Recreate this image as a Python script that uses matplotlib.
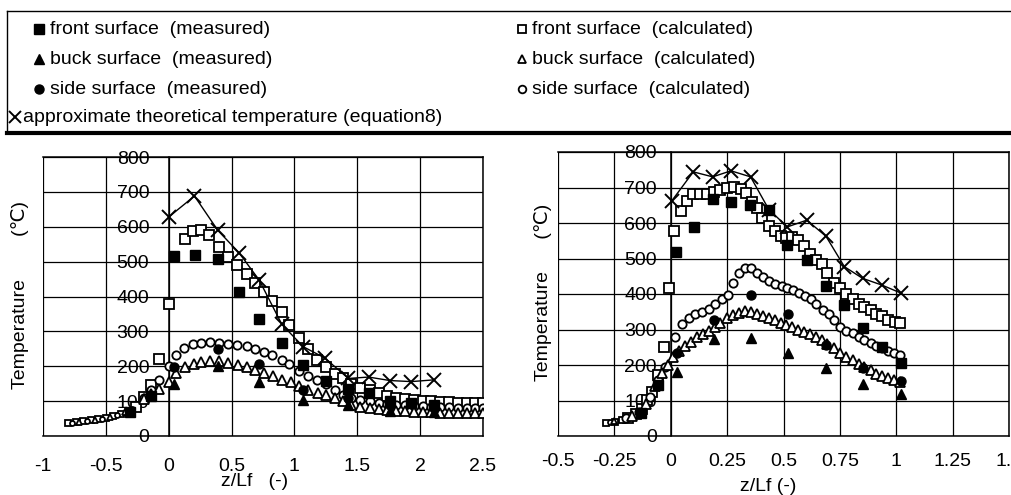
import numpy as np
import matplotlib.pyplot as plt
from matplotlib.lines import Line2D

plt.rcParams['font.family'] = ['Liberation Sans', 'DejaVu Sans']

# ---- left chart : z/Lf from -1 to 2.5 ----
L_meas_front_x = [-0.31, -0.14, 0.04, 0.21, 0.39, 0.56, 0.72, 0.90, 1.07, 1.25, 1.43, 1.59, 1.76, 1.93, 2.11]
L_meas_front_T = [70, 115, 517, 520, 508, 413, 336, 268, 204, 159, 134, 123, 100, 95, 90]
L_meas_x = [0.045, 0.39, 0.72, 1.07, 1.43, 1.76, 2.11]
L_meas_back_T = [149, 201, 156, 103, 89, 73, 70]
L_meas_side_T = [199, 250, 207, 133, 108, 88, 80]
L_theory_x = [0.0, 0.205, 0.39, 0.56, 0.72, 0.90, 1.07, 1.24, 1.43, 1.59, 1.76, 1.93, 2.11]
L_theory_T = [628, 688, 590, 525, 447, 320, 256, 224, 165, 169, 159, 156, 161]

L_calc_front_x = [-0.80, -0.74, -0.68, -0.62, -0.56, -0.50, -0.44, -0.38, -0.32, -0.26, -0.20, -0.14, -0.08, 0.0,
                  0.13, 0.19, 0.26, 0.32, 0.40, 0.47, 0.54, 0.62, 0.69, 0.76, 0.82, 0.90, 0.96, 1.04, 1.11, 1.18,
                  1.25, 1.32, 1.39, 1.45, 1.52, 1.60, 1.67, 1.74, 1.81, 1.88, 1.95, 2.02, 2.09, 2.16, 2.23, 2.30,
                  2.37, 2.44, 2.50]
L_calc_front_T = [38, 40, 42, 45, 48, 52, 57, 63, 70, 82, 112, 147, 220, 379,
                  565, 589, 592, 575, 541, 512, 491, 465, 440, 413, 388, 355, 319, 281, 249, 218,
                  197, 178, 166, 149, 137, 132, 123, 115, 110, 106, 103, 101, 99, 98, 97, 96,
                  96, 95, 95]
L_calc_side_x = [-0.77, -0.65, -0.53, -0.41, -0.29, -0.20, -0.14, -0.08, 0.0, 0.06, 0.125, 0.19, 0.26, 0.33,
                 0.40, 0.47, 0.54, 0.62, 0.69, 0.76, 0.82, 0.90, 0.96, 1.04, 1.11, 1.18, 1.25, 1.32, 1.39,
                 1.45, 1.52, 1.60, 1.67, 1.74, 1.81, 1.88, 1.95, 2.02, 2.09, 2.16, 2.23, 2.30, 2.37, 2.44, 2.50]
L_calc_side_T = [37, 42, 50, 60, 78, 108, 132, 161, 202, 233, 252, 263, 268, 269,
                 268, 264, 261, 257, 249, 242, 233, 218, 207, 185, 172, 161, 149, 132, 118,
                 110, 104, 99, 95, 92, 90, 88, 86, 85, 84, 83, 82, 81, 80, 80, 79]
L_calc_back_x = [-0.71, -0.59, -0.47, -0.35, -0.20, -0.14, -0.08, 0.0, 0.06, 0.13, 0.20, 0.26, 0.33, 0.40,
                 0.47, 0.55, 0.62, 0.69, 0.76, 0.83, 0.90, 0.97, 1.04, 1.11, 1.19, 1.25, 1.32, 1.39, 1.45,
                 1.52, 1.60, 1.67, 1.74, 1.81, 1.88, 1.95, 2.02, 2.09, 2.16, 2.23, 2.30, 2.37, 2.44, 2.50]
L_calc_back_T = [40, 46, 55, 68, 105, 120, 134, 156, 180, 199, 207, 211, 214, 214,
                 209, 204, 199, 190, 180, 172, 161, 156, 142, 132, 123, 118, 108, 99, 89,
                 84, 80, 77, 75, 73, 71, 70, 69, 68, 67, 66, 66, 65, 65, 65]

# ---- right chart : z/Lf from -0.5 to 1.5 ----
R_meas_front_x = [-0.13, -0.055, 0.022, 0.104, 0.186, 0.267, 0.35, 0.435, 0.517, 0.603, 0.688, 0.77, 0.851, 0.937, 1.022]
R_meas_front_T = [64, 144, 517, 588, 667, 658, 650, 638, 539, 497, 422, 368, 303, 252, 206]
R_meas_x = [0.027, 0.19, 0.357, 0.52, 0.688, 0.852, 1.022]
R_meas_back_T = [181, 272, 275, 234, 191, 146, 119]
R_meas_side_T = [233, 326, 396, 343, 256, 191, 155]
R_theory_x = [0.004, 0.10, 0.186, 0.267, 0.354, 0.435, 0.517, 0.603, 0.688, 0.77, 0.851, 0.937, 1.019]
R_theory_T = [662, 744, 730, 747, 730, 638, 589, 608, 563, 477, 444, 425, 403]

R_calc_front_x = [-0.285, -0.248, -0.218, -0.189, -0.156, -0.129, -0.107, -0.085, -0.055, -0.028, -0.007,
                  0.015, 0.045, 0.071, 0.10, 0.131, 0.16, 0.19, 0.22, 0.25, 0.28, 0.31,
                  0.334, 0.361, 0.383, 0.406, 0.435, 0.462, 0.487, 0.513, 0.539, 0.566,
                  0.591, 0.617, 0.643, 0.67, 0.695, 0.725, 0.752, 0.777, 0.807, 0.834,
                  0.859, 0.886, 0.911, 0.938, 0.963, 0.993, 1.015]
R_calc_front_T = [38, 40, 45, 52, 62, 75, 101, 125, 172, 250, 418,
                  577, 633, 662, 681, 683, 683, 686, 692, 700, 702, 697,
                  685, 659, 641, 613, 591, 578, 563, 559, 561, 552,
                  535, 514, 497, 484, 460, 432, 418, 401, 385, 371,
                  364, 355, 345, 338, 328, 322, 319]
R_calc_side_x = [-0.27, -0.20, -0.14, -0.09, -0.058, -0.025,
                 0.019, 0.049, 0.079, 0.108, 0.138, 0.168, 0.198, 0.227, 0.254,
                 0.276, 0.302, 0.328, 0.357, 0.383, 0.409, 0.435, 0.462, 0.492, 0.517,
                 0.542, 0.569, 0.596, 0.621, 0.646, 0.673, 0.70, 0.725, 0.752, 0.777,
                 0.807, 0.834, 0.859, 0.886, 0.911, 0.938, 0.963, 0.99, 1.015]
R_calc_side_T = [40, 50, 68, 110, 158, 193,
                 280, 315, 331, 343, 350, 359, 371, 385, 397,
                 432, 460, 472, 472, 458, 447, 437, 428, 422, 416,
                 411, 403, 394, 385, 371, 356, 343, 326, 308, 296,
                 289, 280, 270, 261, 253, 247, 240, 235, 228]
R_calc_back_x = [-0.25, -0.17, -0.11, -0.07, -0.04, -0.01,
                 0.012, 0.037, 0.064, 0.09, 0.116, 0.141, 0.168, 0.195, 0.22,
                 0.25, 0.276, 0.302, 0.331, 0.358, 0.383, 0.409, 0.435, 0.462, 0.487,
                 0.513, 0.539, 0.566, 0.591, 0.617, 0.643, 0.67, 0.695, 0.725,
                 0.752, 0.777, 0.807, 0.834, 0.859, 0.886, 0.911, 0.938, 0.963, 0.99, 1.015]
R_calc_back_T = [42, 55, 90, 140, 178, 200,
                 223, 240, 253, 265, 278, 287, 296, 306, 317,
                 331, 341, 347, 353, 350, 343, 338, 331, 326, 319,
                 312, 308, 300, 294, 287, 280, 270, 259, 247,
                 235, 223, 214, 203, 195, 186, 176, 169, 162, 158, 153]

L_xticks = [-1, -0.5, 0, 0.5, 1, 1.5, 2, 2.5]
L_xlabels = ['-1', '-0.5', '0', '0.5', '1', '1.5', '2', '2.5']
R_xticks = [-0.5, -0.25, 0, 0.25, 0.5, 0.75, 1, 1.25, 1.5]
R_xlabels = ['-0.5', '-0.25', '0', '0.25', '0.5', '0.75', '1', '1.25', '1.5']
yticks = [0, 100, 200, 300, 400, 500, 600, 700, 800]

meas_style = dict(ls='none', color='black', mec='black')
calc_style = dict(ls='none', mfc='white', mec='black', mew=1.3)
sizes = {'s': 7, '^': 7, 'o': 6.5}
calc_sizes = {'s': 6.5, '^': 6.5, 'o': 6}


def draw_calc(ax, x, y, marker, cut):
    # points far upstream are packed tightly, so they get a smaller marker
    x = np.array(x)
    y = np.array(y)
    small = x < cut
    ax.plot(x[~small], y[~small], marker, ms=calc_sizes[marker], **calc_style, zorder=3)
    ax.plot(x[small], y[small], marker, ms=calc_sizes[marker] * 0.6, **calc_style, zorder=3)


def setup(ax, xticks, xlabels, xpad, ypad):
    ax.set_xlim(xticks[0], xticks[-1])
    ax.set_ylim(0, 800)
    ax.set_xticks(xticks)
    ax.set_xticklabels(xlabels)
    ax.set_yticks(yticks)
    ax.set_yticklabels([str(v) for v in yticks])
    ax.spines['left'].set_position(('data', 0))
    for s in ax.spines.values():
        s.set_linewidth(1.1)
    ax.grid(True, color='black', lw=0.9)
    ax.set_axisbelow(True)
    ax.tick_params(axis='x', length=0, labelsize=14, pad=xpad)
    ax.tick_params(axis='y', length=0, labelsize=14, pad=ypad)


fig = plt.figure(figsize=(10.12, 4.95), dpi=100)
ax1 = fig.add_axes([43 / 1012, 1 - 436 / 495, 440 / 1012, 279 / 495])
ax2 = fig.add_axes([558 / 1012, 1 - 436 / 495, 451 / 1012, 284 / 495])

setup(ax1, L_xticks, L_xlabels, 15.5, 14)
setup(ax2, R_xticks, R_xlabels, 12, 10)

# left chart
draw_calc(ax1, L_calc_front_x, L_calc_front_T, 's', -0.28)
draw_calc(ax1, L_calc_side_x, L_calc_side_T, 'o', -0.28)
draw_calc(ax1, L_calc_back_x, L_calc_back_T, '^', -0.28)
ax1.plot(L_meas_front_x, L_meas_front_T, 's', ms=sizes['s'], **meas_style, zorder=4)
ax1.plot(L_meas_x, L_meas_back_T, '^', ms=sizes['^'], **meas_style, zorder=4)
ax1.plot(L_meas_x, L_meas_side_T, 'o', ms=sizes['o'], **meas_style, zorder=4)
ax1.plot(L_theory_x, L_theory_T, 'x-', color='black', lw=1.0, ms=10, mew=1.4, zorder=5)

# right chart
draw_calc(ax2, R_calc_front_x, R_calc_front_T, 's', -0.2)
draw_calc(ax2, R_calc_side_x, R_calc_side_T, 'o', -0.2)
draw_calc(ax2, R_calc_back_x, R_calc_back_T, '^', -0.2)
ax2.plot(R_meas_front_x, R_meas_front_T, 's', ms=sizes['s'], **meas_style, zorder=4)
ax2.plot(R_meas_x, R_meas_back_T, '^', ms=sizes['^'], **meas_style, zorder=4)
ax2.plot(R_meas_x, R_meas_side_T, 'o', ms=sizes['o'], **meas_style, zorder=4)
ax2.plot(R_theory_x, R_theory_T, 'x-', color='black', lw=1.0, ms=10, mew=1.4, zorder=5)

ax1.set_ylabel('Temperature        (℃)', fontsize=14)
ax1.yaxis.set_label_coords(-0.032, 0.505)
ax1.set_xlabel('z/Lf   (-)', fontsize=14, va='top')
ax1.xaxis.set_label_coords(0.48, -0.133)

ax2.set_ylabel('Temperature      (℃)', fontsize=14)
ax2.yaxis.set_label_coords(-0.013, 0.507)
ax2.set_xlabel('z/Lf (-)', fontsize=14, va='top')
ax2.xaxis.set_label_coords(0.466, -0.148)


# legend panel across the top
def fx(px):
    return px / 1012


def fy(py):
    return 1 - py / 495


rows = [29, 59, 89]
meas_entries = [('s', 'front surface  (measured)'),
                ('^', 'buck surface  (measured)'),
                ('o', 'side surface  (measured)')]
calc_entries = [('s', 'front surface  (calculated)'),
                ('^', 'buck surface  (calculated)'),
                ('o', 'side surface  (calculated)')]

for y, (m, label) in zip(rows, meas_entries):
    fig.add_artist(Line2D([fx(39)], [fy(y)], marker=m, ms=sizes[m], transform=fig.transFigure, **meas_style))
    fig.text(fx(50), fy(y), label, fontsize=14, va='center', ha='left')

for y, (m, label) in zip(rows, calc_entries):
    fig.add_artist(Line2D([fx(522)], [fy(y)], marker=m, ms=5.5, transform=fig.transFigure, **calc_style))
    fig.text(fx(532), fy(y), label, fontsize=14, va='center', ha='left')

fig.add_artist(Line2D([fx(15)], [fy(117)], marker='x', ms=9, mew=1.4, color='black', ls='none',
                      transform=fig.transFigure))
fig.text(fx(23), fy(117), 'approximate theoretical temperature (equation8)', fontsize=14, va='center', ha='left')

fig.add_artist(Line2D([fx(7), fx(1012)], [fy(11), fy(11)], color='black', lw=1.0, transform=fig.transFigure))
fig.add_artist(Line2D([fx(7), fx(7)], [fy(11), fy(133)], color='black', lw=1.0, transform=fig.transFigure))
fig.add_artist(Line2D([fx(7), fx(1012)], [fy(133), fy(133)], color='black', lw=3.0, transform=fig.transFigure))

fig.savefig('out.png', dpi=100)
